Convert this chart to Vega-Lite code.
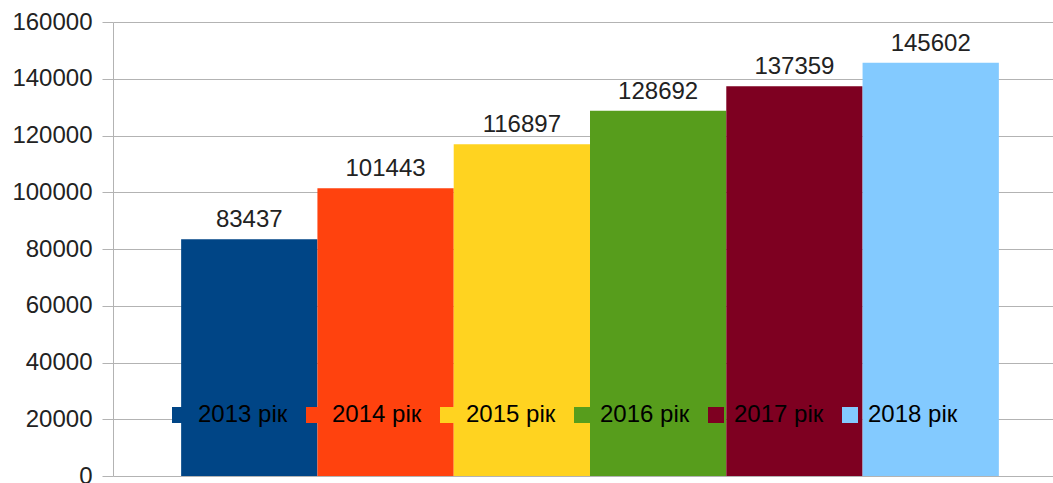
{
  "$schema": "https://vega.github.io/schema/vega-lite/v6.json",
  "width": 940,
  "height": 454,
  "autosize": {"type": "none"},
  "padding": {"left": 113, "top": 22, "right": 0, "bottom": 7},
  "background": "white",
  "config": {
    "view": {"stroke": null},
    "font": "Liberation Sans"
  },
  "data": {
    "values": [
      {"year": "2013 рік", "value": 83437},
      {"year": "2014 рік", "value": 101443},
      {"year": "2015 рік", "value": 116897},
      {"year": "2016 рік", "value": 128692},
      {"year": "2017 рік", "value": 137359},
      {"year": "2018 рік", "value": 145602}
    ]
  },
  "encoding": {
    "x": {
      "field": "year",
      "type": "nominal",
      "sort": null,
      "scale": {"range": [0, 954], "paddingInner": 0, "paddingOuter": 0.5},
      "axis": {"labels": false, "ticks": false, "title": null, "domain": false}
    },
    "y": {
      "field": "value",
      "type": "quantitative",
      "scale": {"domain": [0, 160000], "nice": false},
      "axis": {
        "title": null,
        "values": [0, 20000, 40000, 60000, 80000, 100000, 120000, 140000, 160000],
        "format": "d",
        "labelFont": "Liberation Sans",
        "labelFontSize": 24,
        "labelColor": "#222222",
        "labelPadding": 10,
        "tickSize": 11,
        "tickColor": "#b3b3b3",
        "gridColor": "#b3b3b3",
        "domainColor": "#b3b3b3",
        "grid": true
      }
    }
  },
  "layer": [
    {
      "mark": {"type": "bar"},
      "encoding": {
        "color": {
          "field": "year",
          "type": "nominal",
          "sort": null,
          "scale": {
            "domain": ["2013 рік", "2014 рік", "2015 рік", "2016 рік", "2017 рік", "2018 рік"],
            "range": ["#004586", "#ff420e", "#ffd320", "#579d1c", "#7e0021", "#83caff"]
          },
          "legend": {
            "title": null,
            "orient": "none",
            "legendX": 55,
            "legendY": 381,
            "direction": "horizontal",
            "columns": 6,
            "symbolType": "square",
            "symbolSize": 256,
            "symbolStrokeWidth": 0,
            "symbolOpacity": 1,
            "labelFont": "Liberation Sans",
            "labelFontSize": 24,
            "labelColor": "#000000",
            "labelOffset": 6,
            "labelLimit": 200,
            "columnPadding": 14,
            "padding": 0
          }
        }
      }
    },
    {
      "mark": {
        "type": "text",
        "baseline": "alphabetic",
        "dy": -12,
        "font": "Liberation Sans",
        "fontSize": 24,
        "color": "#222222"
      },
      "encoding": {
        "text": {"field": "value", "type": "quantitative", "format": "d"}
      }
    }
  ]
}
